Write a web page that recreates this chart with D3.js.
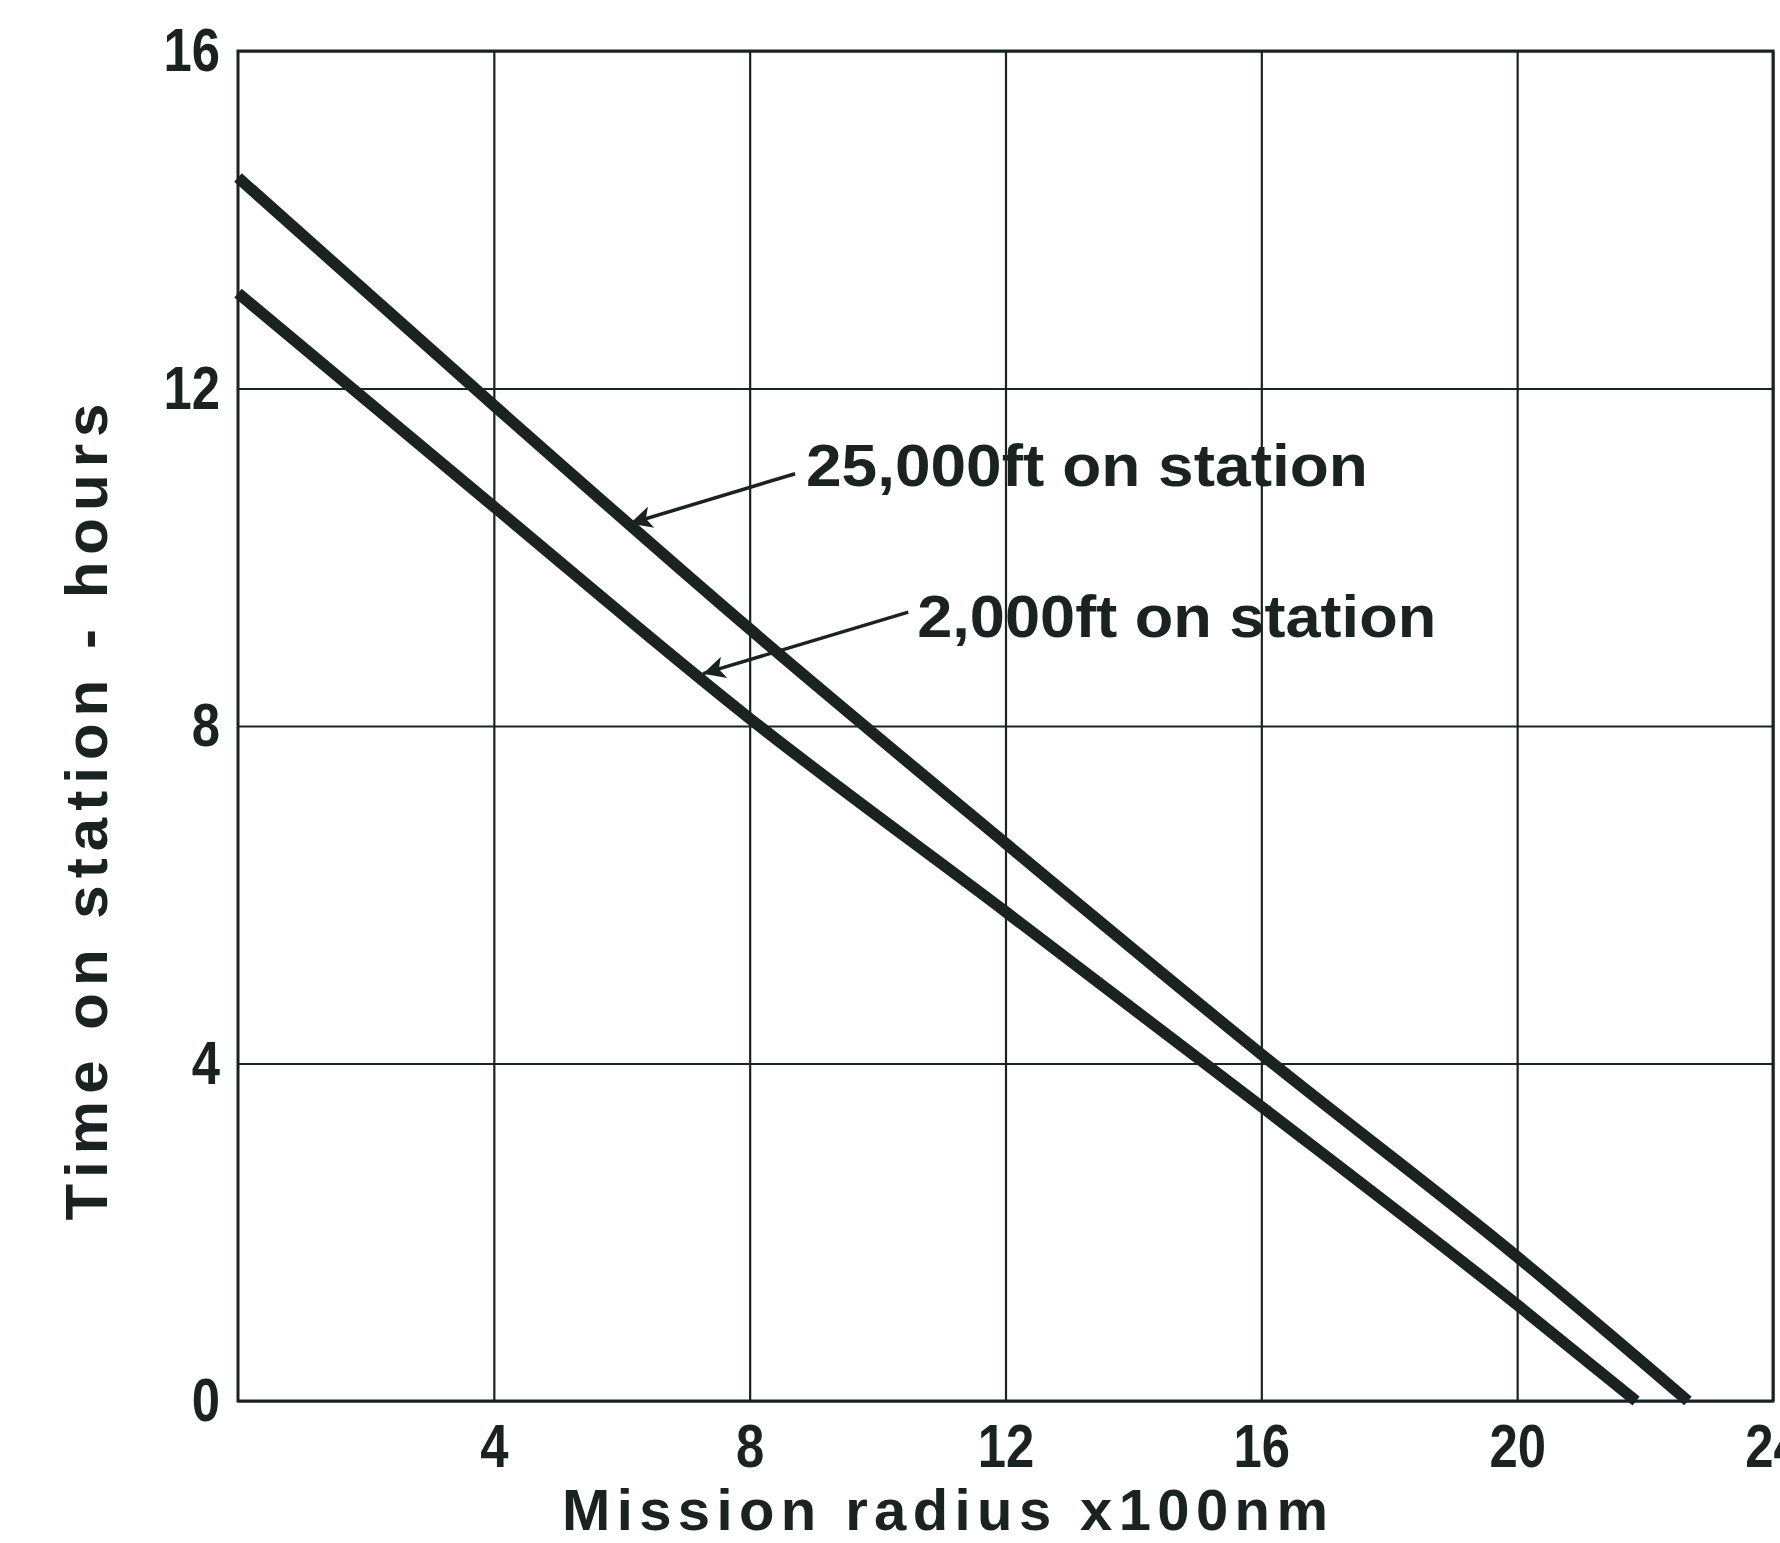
<!DOCTYPE html>
<html>
<head>
<meta charset="utf-8">
<script src="https://cdn.jsdelivr.net/npm/d3@7"></script>
<style>
  body { margin: 0; background: #fff; }
  svg { display: block; }
  text { font-family: "Liberation Sans", Arial, sans-serif; font-weight: bold; fill: #1b2222; }
</style>
</head>
<body>
<div id="graph"></div>
<script>
//radius (x100nm) and time on station (hours)
const radius25k = [0, 4, 8, 12, 16, 20, 22.67];
const hours25k  = [14.5, 11.8, 9.15, 6.61, 4.11, 1.71, 0];
const radius2k  = [0, 4, 8, 12, 16, 20, 21.86];
const hours2k   = [13.13, 10.6, 8.09, 5.8, 3.49, 1.14, 0];

const xTicks = [4, 8, 12, 16, 20, 24];
const yTicks = [0, 4, 8, 12, 16];

//annotation labels, with arrow tail and tip in data units
const labels = ["25,000ft on station", "2,000ft on station"];
const labelAt = [[8.88, 10.85], [10.62, 9.05]];
const labelLen = [562, 519];
const arrowTail = [[8.71, 10.99], [10.48, 9.35]];
const arrowTip = [[6.13, 10.4], [7.27, 8.62]];

const width = 1780, height = 1543;
const plotLeft = 238, plotRight = 1773, plotTop = 51, plotBottom = 1401;
const ink = "#1b2222";

const svg = d3.select("#graph").append("svg")
    .attr("width", width)
    .attr("height", height);

const x = d3.scaleLinear().domain([0, 24]).range([plotLeft, plotRight]);
const y = d3.scaleLinear().domain([0, 16]).range([plotBottom, plotTop]);

//grid + tick labels
const xAxis = svg.append("g")
    .attr("transform", "translate(0," + plotBottom + ")")
    .call(d3.axisBottom(x).tickValues(xTicks).tickSize(-(plotBottom - plotTop)).tickPadding(22).tickFormat(d3.format("d")));

const yAxis = svg.append("g")
    .attr("transform", "translate(" + plotLeft + ",0)")
    .call(d3.axisLeft(y).tickValues(yTicks).tickSize(-(plotRight - plotLeft)).tickPadding(18).tickFormat(d3.format("d")));

[xAxis, yAxis].forEach(function(g) {
    g.select(".domain").remove();
    g.selectAll(".tick line").attr("stroke", ink).attr("stroke-width", 2.2);
    g.selectAll(".tick text").attr("fill", ink)
        .style("font-size", "62px")
        .style("font-family", "'Liberation Sans', Arial, sans-serif")
        .style("font-weight", "bold");
});

//narrow the digits like the original lettering
xAxis.selectAll(".tick text").attr("transform", "scale(0.82,1)");
yAxis.selectAll(".tick text")
    .attr("x", -18 / 0.82)
    .attr("transform", "scale(0.82,1)");

//frame
svg.append("rect")
    .attr("x", plotLeft).attr("y", plotTop)
    .attr("width", plotRight - plotLeft).attr("height", plotBottom - plotTop)
    .attr("fill", "none").attr("stroke", ink).attr("stroke-width", 3);

//curves
const line = d3.line()
    .x(function(d) { return x(d[0]); })
    .y(function(d) { return y(d[1]); })
    .curve(d3.curveMonotoneX);

const series = [d3.zip(radius25k, hours25k), d3.zip(radius2k, hours2k)];

svg.append("g").selectAll("path")
    .data(series)
    .enter().append("path")
    .attr("d", line)
    .attr("fill", "none")
    .attr("stroke", ink)
    .attr("stroke-width", 11.5);

//arrows
svg.append("defs").append("marker")
    .attr("id", "head")
    .attr("viewBox", "0 0 10 10")
    .attr("refX", 10).attr("refY", 5)
    .attr("markerWidth", 40).attr("markerHeight", 22)
    .attr("markerUnits", "userSpaceOnUse")
    .attr("orient", "auto")
    .append("path")
    .attr("d", "M0,0 L10,5 L0,10 L2.5,5 Z")
    .attr("fill", ink);

svg.append("g").selectAll("line")
    .data(labels)
    .enter().append("line")
    .attr("x1", function(d, i) { return x(arrowTail[i][0]); })
    .attr("y1", function(d, i) { return y(arrowTail[i][1]); })
    .attr("x2", function(d, i) { return x(arrowTip[i][0]); })
    .attr("y2", function(d, i) { return y(arrowTip[i][1]); })
    .attr("stroke", ink)
    .attr("stroke-width", 3.5)
    .attr("marker-end", "url(#head)");

svg.append("g").selectAll("text")
    .data(labels)
    .enter().append("text")
    .attr("x", function(d, i) { return x(labelAt[i][0]); })
    .attr("y", function(d, i) { return y(labelAt[i][1]); })
    .attr("textLength", function(d, i) { return labelLen[i]; })
    .attr("lengthAdjust", "spacingAndGlyphs")
    .style("font-size", "60px")
    .text(function(d) { return d; });

//axis titles
svg.append("text")
    .attr("x", 562).attr("y", 1530)
    .attr("textLength", 766)
    .attr("lengthAdjust", "spacing")
    .style("font-size", "58px")
    .text("Mission  radius  x100nm");

svg.append("text")
    .attr("transform", "translate(107,812) rotate(-90)")
    .attr("text-anchor", "middle")
    .attr("textLength", 817)
    .attr("lengthAdjust", "spacing")
    .style("font-size", "60px")
    .text("Time on station - hours");
</script>
</body>
</html>
